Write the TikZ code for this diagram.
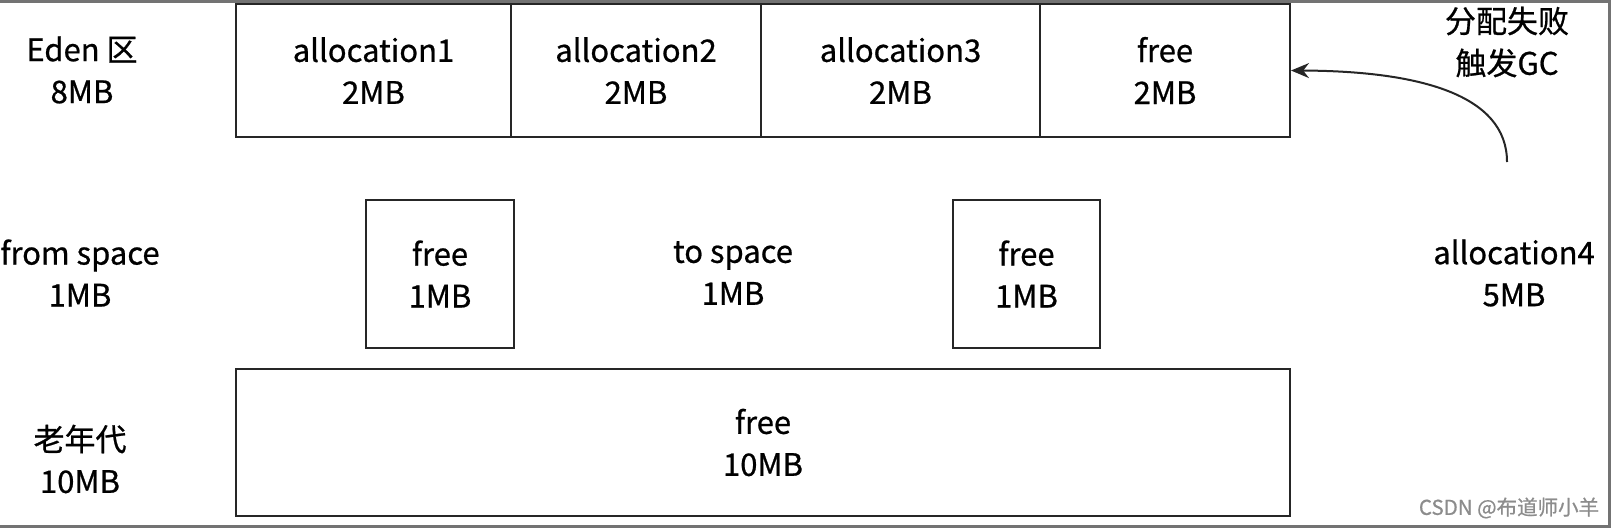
\documentclass[tikz,border=0pt]{standalone}
\usepackage{fontspec}
\setmainfont{Noto Sans CJK SC}[FakeBold=0.7]
\usetikzlibrary{arrows.meta}
\begin{document}
\begin{tikzpicture}[x=1pt,y=-1pt,
  box/.style={draw=black!85,line width=2pt,inner sep=0pt,align=center,font=\fontsize{31}{42}\selectfont},
  lbl/.style={align=center,font=\fontsize{31}{42}\selectfont,inner sep=0pt},
  conn/.style={-{Stealth[length=18pt,width=15pt]},line width=2pt,draw=black!85}]
\useasboundingbox (0,0) rectangle (1611,528);
\fill[white] (0,0) rectangle (1611,528);
\draw[black!55,line width=3pt] (0,1.5) -- (1609.5,1.5) -- (1609.5,526.5) -- (0,526.5);
% Eden
\node[box,minimum width=275pt,minimum height=133pt] (a1) at (373.5,70.5) {allocation1\\2MB};
\node[box,minimum width=250pt,minimum height=133pt] (a2) at (636,70.5) {allocation2\\2MB};
\node[box,minimum width=279pt,minimum height=133pt] (a3) at (900.5,70.5) {allocation3\\2MB};
\node[box,minimum width=250pt,minimum height=133pt] (a4) at (1165,70.5) {free\\2MB};
% survivor
\node[box,minimum width=148pt,minimum height=148pt] (f1) at (440,274) {free\\1MB};
\node[box,minimum width=147pt,minimum height=148pt] (f2) at (1026.5,274) {free\\1MB};
\node[lbl] (to) at (733,273) {to space\\1MB};
% old
\node[box,minimum width=1054pt,minimum height=147pt] (old) at (763,442.5) {free\\10MB};
% left labels
\node[lbl] (eden) at (82,70) {Eden 区\\8MB};
\node[lbl] (from) at (80,273) {from space\\1MB};
\node[lbl] (oldl) at (80,459) {老年代\\10MB};
% right
\node[lbl] (fail) at (1507,42) {分配失败\\触发GC};
\node[lbl] (a5) at (1514,273) {allocation4\\5MB};
\coordinate (s) at (1507,162);
\draw[conn] (s) .. controls (1507,95) and (1420,71) .. (a4.east);
% watermark
\node[font=\fontsize{20.5}{20.5}\selectfont,text=black!45,inner sep=0pt] (wm) at (1509,508) {CSDN @布道师小羊};
\end{tikzpicture}
\end{document}
